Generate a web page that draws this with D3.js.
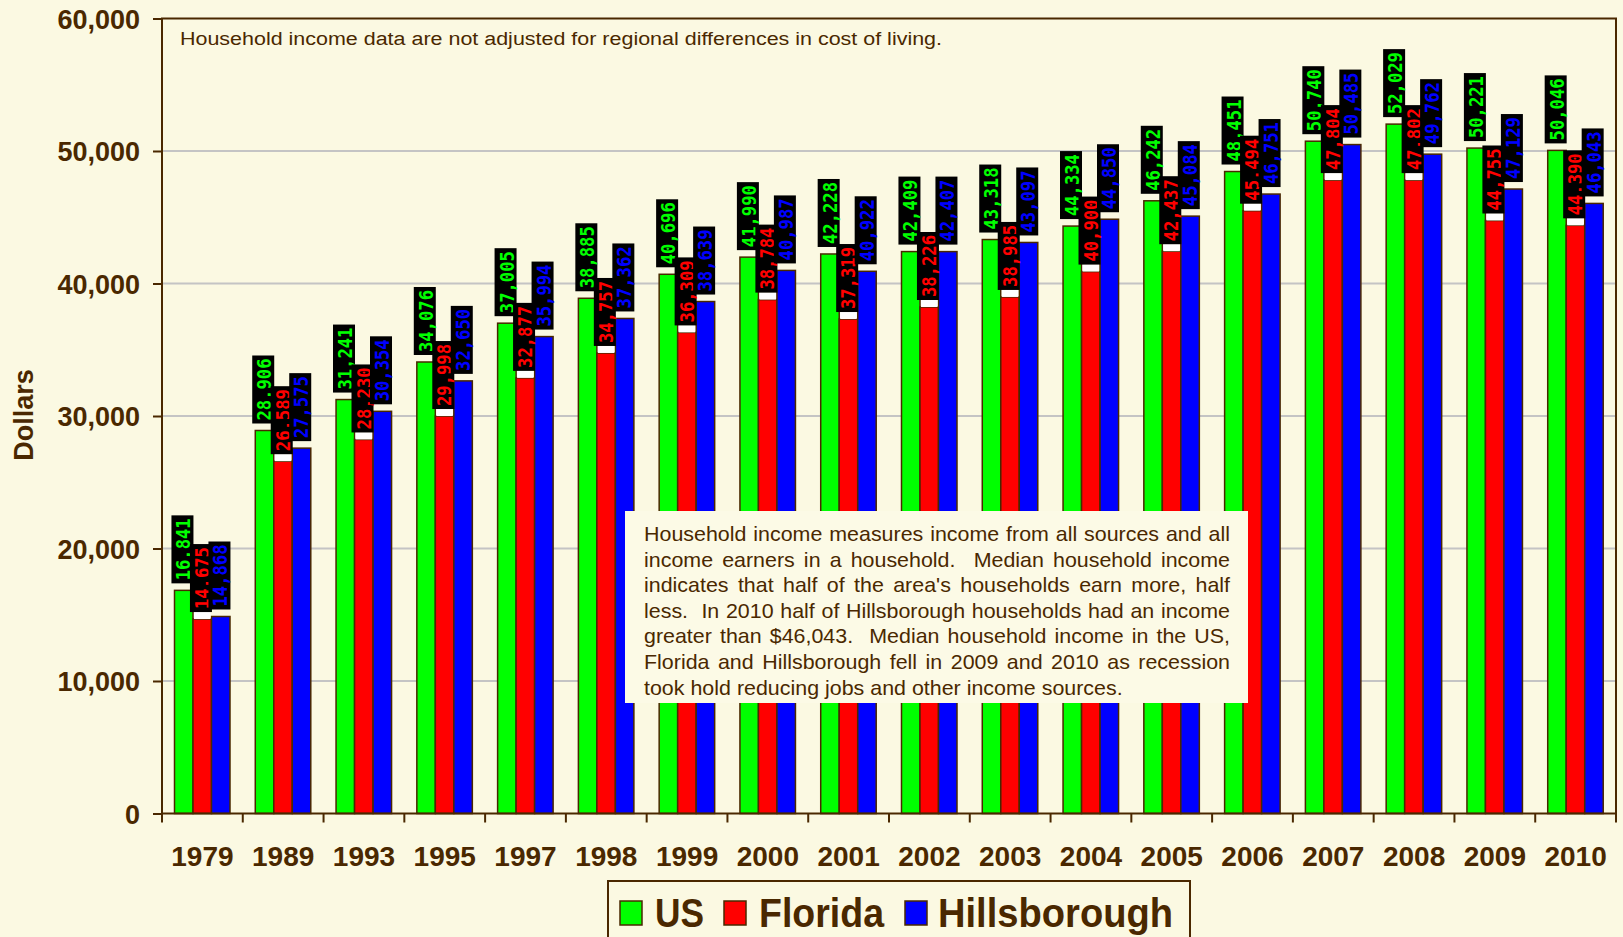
<!DOCTYPE html>
<html>
<head>
<meta charset="utf-8">
<script src="https://cdn.jsdelivr.net/npm/d3@7"></script>
<style>
  body { margin: 0; background: #fbf9e2; }
  svg { display: block; font-family: "Liberation Sans", Arial, sans-serif; }
</style>
</head>
<body>
<script>
// median household income
const years = ["1979","1989","1993","1995","1997","1998","1999","2000","2001","2002","2003","2004","2005","2006","2007","2008","2009","2010"];
const us = [16841,28906,31241,34076,37005,38885,40696,41990,42228,42409,43318,44334,46242,48451,50740,52029,50221,50046];
const florida = [14675,26589,28230,29998,32877,34757,36309,38784,37319,38226,38985,40900,42437,45494,47804,47802,44755,44390];
const hillsborough = [14868,27575,30354,32650,35994,37362,38639,40987,40922,42407,43097,44850,45084,46751,50485,49762,47129,46043];
const seriesNames = ["US","Florida","Hillsborough"];
const seriesColors = ["#00ff00","#ff0000","#0000ff"];
const yTicks = [0,10000,20000,30000,40000,50000,60000];

const noteTop = "Household income data are not adjusted for regional differences in cost of living.";
const noteLines = [
  "Household income measures income from all sources and all",
  "income earners in a household.  Median household income",
  "indicates that half of the area's households earn more, half",
  "less.  In 2010 half of Hillsborough households had an income",
  "greater than $46,043.  Median household income in the US,",
  "Florida and Hillsborough fell in 2009 and 2010 as recession",
  "took hold reducing jobs and other income sources."
];

const W = 1623, H = 937;
const ink = "#4a2800", bg = "#fbf9e2";
const plotL = 162, plotR = 1616, plotT = 18.5, plotB = 813.5;

const svg = d3.select("body").append("svg")
    .attr("width", W)
    .attr("height", H);

svg.append("rect").attr("width", W).attr("height", H).attr("fill", bg);

const x = d3.scaleBand().domain(years).range([plotL, plotR]);
const xs = d3.scaleBand().domain(d3.range(3)).range([12.5, 68]);
const y = d3.scaleLinear().domain([0, 60000]).range([plotB, plotT]);

// gridlines
svg.append("g").selectAll("line")
  .data(yTicks.filter(d => d > 0 && d < 60000))
  .enter().append("line")
    .attr("x1", plotL).attr("x2", plotR)
    .attr("y1", d => y(d)).attr("y2", d => y(d))
    .attr("stroke", "#c4c4c4").attr("stroke-width", 2);

// y axis
const yAxis = svg.append("g")
    .attr("transform", "translate(" + plotL + ",0)")
    .call(d3.axisLeft(y).tickValues(yTicks).tickSize(9).tickSizeOuter(0).tickFormat(d3.format(",")));
yAxis.select(".domain").remove();
yAxis.selectAll(".tick line").attr("stroke", ink).attr("stroke-width", 2);
yAxis.selectAll(".tick text")
    .attr("x", -22).attr("dy", "0.36em")
    .attr("fill", ink)
    .style("font-family", "'Liberation Sans', Arial, sans-serif")
    .style("font-size", "27px").style("font-weight", "bold");

svg.append("text")
    .attr("transform", "translate(33,415) rotate(-90)")
    .attr("text-anchor", "middle")
    .attr("fill", ink)
    .style("font-size", "27px").style("font-weight", "bold")
    .text("Dollars");

// x axis labels
const xAxis = svg.append("g")
    .attr("transform", "translate(0," + plotB + ")")
    .call(d3.axisBottom(x).tickSize(0).tickPadding(0));
xAxis.select(".domain").remove();
xAxis.selectAll(".tick text")
    .attr("y", 52).attr("dy", 0)
    .attr("fill", ink)
    .style("font-family", "'Liberation Sans', Arial, sans-serif")
    .style("font-size", "28px").style("font-weight", "bold");

// band boundary ticks
svg.append("g").selectAll("line")
  .data(years.map(d => x(d)).concat([plotR]))
  .enter().append("line")
    .attr("x1", d => d).attr("x2", d => d)
    .attr("y1", plotB).attr("y2", plotB + 9)
    .attr("stroke", ink).attr("stroke-width", 2);

// bars
const rows = years.map((yr, i) => ({year: yr, values: [us[i], florida[i], hillsborough[i]]}));

const groups = svg.append("g").selectAll("g")
  .data(rows)
  .enter().append("g")
    .attr("transform", d => "translate(" + x(d.year) + ",0)");

groups.selectAll("rect")
  .data(d => d.values.map((v, k) => ({v: v, k: k})))
  .enter().append("rect")
    .attr("x", d => xs(d.k))
    .attr("y", d => y(d.v))
    .attr("width", xs.bandwidth())
    .attr("height", d => plotB - y(d.v))
    .attr("fill", d => seriesColors[d.k])
    .attr("stroke", ink).attr("stroke-width", 1.5);

// plot frame
svg.append("rect")
    .attr("x", plotL).attr("y", plotT)
    .attr("width", plotR - plotL).attr("height", plotB - plotT)
    .attr("fill", "none").attr("stroke", ink).attr("stroke-width", 2);

// value labels
const gap = 7;
const labels = svg.append("g");
rows.forEach(function(r) {
  r.values.forEach(function(v, k) {
    const cx = x(r.year) + xs(k) + xs.bandwidth() / 2 - 1.3;
    const yt = y(v);
    if (k === 1) {
      labels.append("rect")
          .attr("x", x(r.year) + xs(k) + 1).attr("y", yt - gap)
          .attr("width", xs.bandwidth() - 2).attr("height", gap)
          .attr("fill", "#ffffff");
    }
    const g = labels.append("g").attr("transform", "translate(" + cx + "," + (yt - gap) + ")");
    const h = 68;
    g.append("rect")
        .attr("x", -11).attr("y", -h)
        .attr("width", 22).attr("height", h)
        .attr("fill", "#000");
    g.append("text")
        .attr("transform", "translate(1," + (-h / 2) + ") rotate(-90)")
        .attr("x", -31)
        .attr("dominant-baseline", "central")
        .attr("textLength", 62).attr("lengthAdjust", "spacingAndGlyphs")
        .attr("fill", seriesColors[k])
        .style("font-family", "'DejaVu Sans Mono', 'Liberation Mono', monospace")
        .style("font-size", "19px").style("font-weight", "bold")
        .text(d3.format(",")(v));
  });
});

// top note
svg.append("text")
    .attr("x", 180).attr("y", 45)
    .attr("fill", ink)
    .attr("textLength", 762).attr("lengthAdjust", "spacingAndGlyphs")
    .style("font-size", "18px")
    .text(noteTop);

// explanation box
svg.append("rect")
    .attr("x", 625).attr("y", 511)
    .attr("width", 623).attr("height", 192)
    .attr("fill", "#fcfae6");

const boxText = svg.append("g");
const tl = boxText.selectAll("text")
  .data(noteLines)
  .enter().append("text")
    .attr("x", 0)
    .attr("y", (d, i) => 541 + i * 25.6)
    .attr("fill", ink)
    .style("white-space", "pre")
    .style("font-size", "21px")
    .text(d => d);

const lastW = tl.nodes()[noteLines.length - 1].getComputedTextLength();
const sx = 479 / lastW;
boxText.attr("transform", "translate(644,0) scale(" + sx + ",1)");
tl.each(function(d, i) {
  if (i === noteLines.length - 1) return;
  const w = this.getComputedTextLength();
  const spaces = (d.match(/ /g) || []).length;
  d3.select(this).attr("word-spacing", ((586 / sx - w) / spaces) + "px");
});

// legend
svg.append("rect")
    .attr("x", 608).attr("y", 881)
    .attr("width", 582).attr("height", 80)
    .attr("fill", "none").attr("stroke", ink).attr("stroke-width", 2);

const legendSw = [620, 724, 905];
const legendTx = [655, 759, 938];
const legendLen = [49, 125, 235];
seriesNames.forEach(function(name, k) {
  svg.append("rect")
      .attr("x", legendSw[k]).attr("y", 901)
      .attr("width", 22).attr("height", 24)
      .attr("fill", seriesColors[k])
      .attr("stroke", ink).attr("stroke-width", 1.5);
  svg.append("text")
      .attr("x", legendTx[k]).attr("y", 927)
      .attr("fill", ink)
      .attr("textLength", legendLen[k]).attr("lengthAdjust", "spacingAndGlyphs")
      .style("font-size", "41px").style("font-weight", "bold")
      .text(name);
});
</script>
</body>
</html>
